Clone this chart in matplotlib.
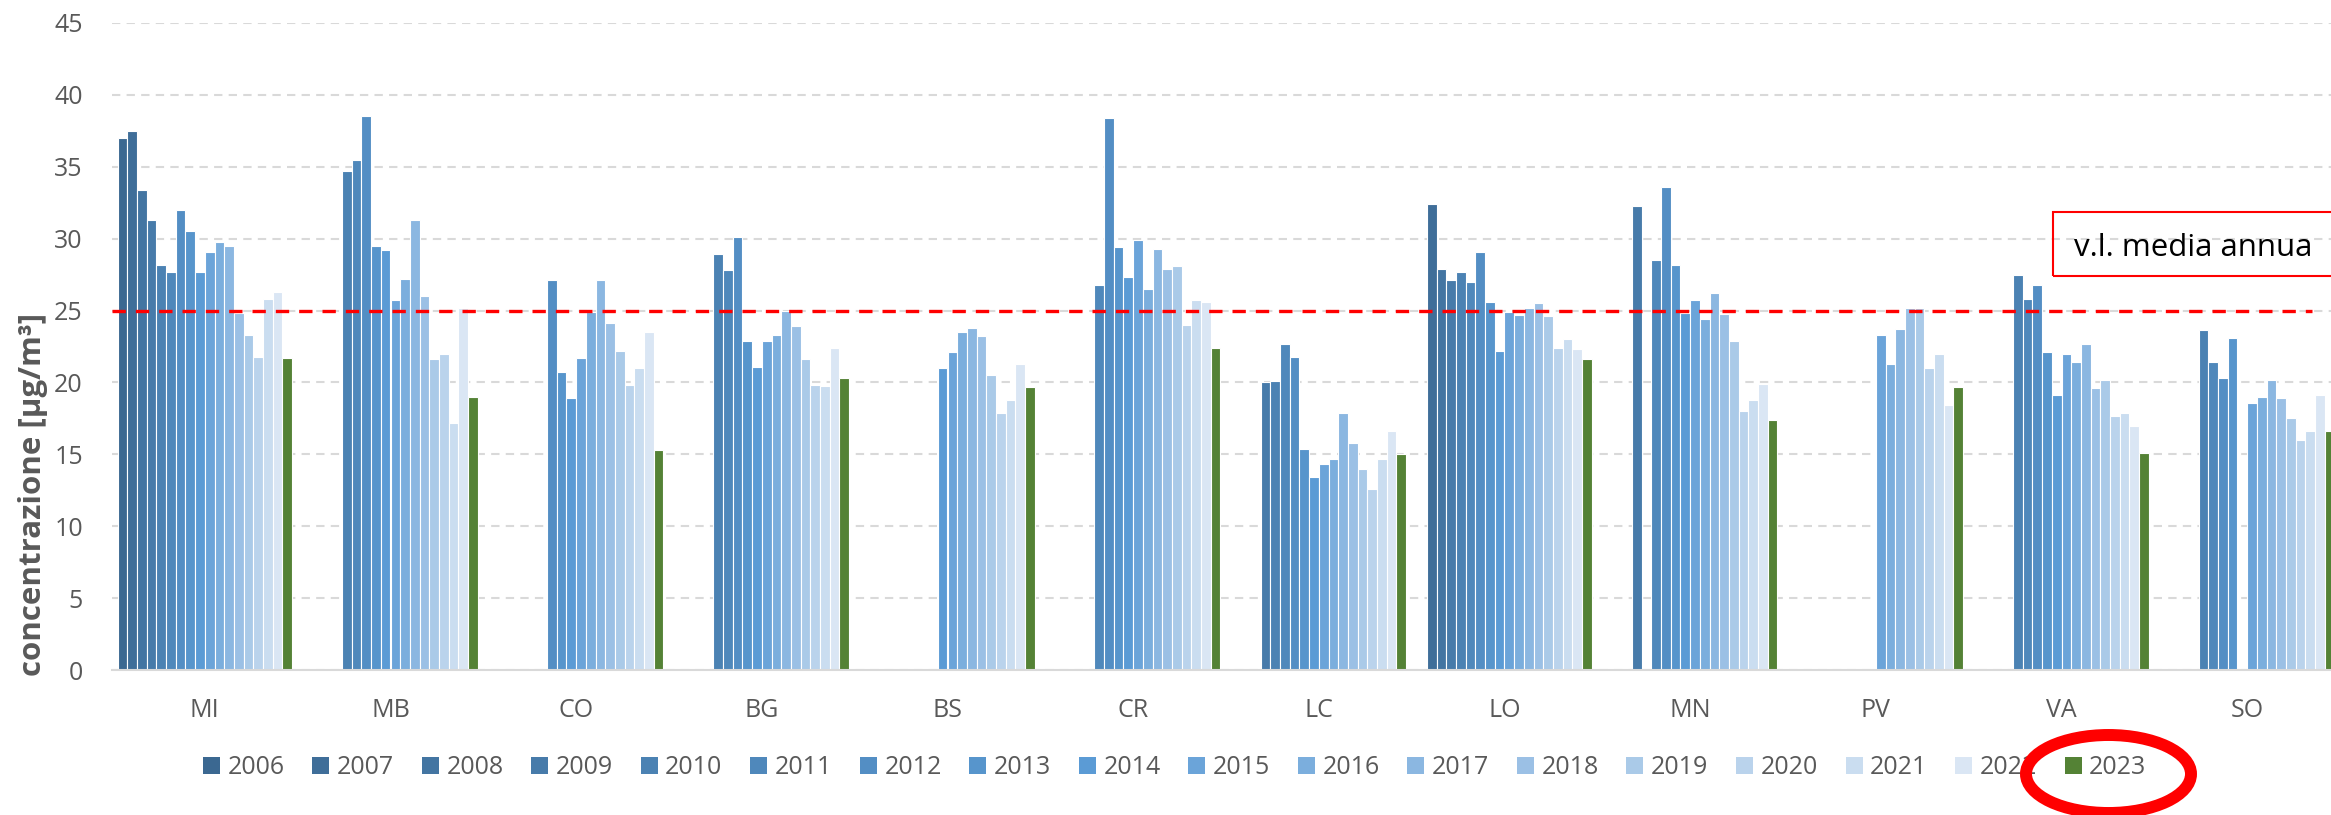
import matplotlib
matplotlib.use('Agg')
import matplotlib.pyplot as plt
from matplotlib.patches import Patch, Rectangle, Ellipse
import numpy as np

plt.rcParams['font.family'] = ['Open Sans', 'DejaVu Sans']

years = [str(y) for y in range(2006, 2024)]
provinces = ['MI', 'MB', 'CO', 'BG', 'BS', 'CR', 'LC', 'LO', 'MN', 'PV', 'VA', 'SO']

# annual means per province, 2006..2023 (None = no data)
MI = [37.0, 37.5, 33.4, 31.3, 28.2, 27.7, 32.0, 30.5, 27.7, 29.1, 29.8, 29.5, 24.8, 23.3, 21.8, 25.8, 26.3, 21.7]
MB = [None, None, None, None, 34.7, 35.5, 38.5, 29.5, 29.2, 25.7, 27.2, 31.3, 26.0, 21.6, 22.0, 17.2, 25.2, 19.0]
CO = [None, None, None, None, None, None, 27.1, 20.7, 18.9, 21.7, 24.9, 27.1, 24.1, 22.2, 19.8, 21.0, 23.5, 15.3]
BG = [None, None, None, None, 28.9, 27.8, 30.1, 22.9, 21.1, 22.9, 23.3, 25.0, 23.9, 21.6, 19.8, 19.75, 22.4, 20.3]
BS = [None, None, None, None, None, None, None, None, 21.0, 22.1, 23.5, 23.8, 23.2, 20.5, 17.9, 18.8, 21.3, 19.7]
CR = [None, None, None, None, None, 26.8, 38.4, 29.4, 27.3, 29.9, 26.5, 29.3, 27.9, 28.1, 24.0, 25.7, 25.6, 22.4]
LC = [None, None, None, 20.0, 20.1, 22.7, 21.8, 15.4, 13.4, 14.3, 14.7, 17.9, 15.8, 14.0, 12.6, 14.7, 16.6, 15.0]
LO = [None, 32.4, 27.9, 27.1, 27.7, 27.0, 29.1, 25.6, 22.2, 24.9, 24.7, 25.2, 25.5, 24.6, 22.4, 23.0, 22.3, 21.6]
MN = [None, None, None, 32.3, None, 28.5, 33.6, 28.2, 24.8, 25.7, 24.4, 26.2, 24.75, 22.9, 18.0, 18.8, 19.9, 17.4]
PV = [None, None, None, None, None, None, None, None, None, 23.3, 21.3, 23.7, 25.2, 25.2, 21.0, 22.0, 18.4, 19.7]
VA = [None, None, None, None, 27.5, 25.8, 26.8, 22.1, 19.1, 22.0, 21.4, 22.7, 19.6, 20.2, 17.7, 17.85, 17.0, 15.1]
SO = [None, None, None, None, 23.65, 21.4, 20.3, 23.1, None, 18.6, 19.0, 20.2, 18.9, 17.5, 16.0, 16.6, 19.1, 16.6]
values = [MI, MB, CO, BG, BS, CR, LC, LO, MN, PV, VA, SO]

LIMIT = 25  # v.l. media annua

colors = ['#3b6891', '#3f6e99', '#4375a2', '#477baa', '#4b82b3', '#4f88bb', '#538ec4', '#5795cc', '#5b9bd5',
          '#6ba4d9', '#7baedd', '#8bb7e1', '#9bc0e5', '#aacae8', '#bad3ec', '#caddf0', '#dae6f4', '#548235']

W, H = 2331, 815
fig = plt.figure(figsize=(W / 100, H / 100), dpi=100)
ax = fig.add_axes([112 / W, 145 / H, (2340 - 112) / W, (670 - 23) / H])

x = np.arange(len(provinces))
w = 1 / 19.2
for k, yr in enumerate(years):
    for i, vals in enumerate(values):
        v = vals[k]
        if v is None:
            continue
        ax.bar(x[i] + (k - 8.5) * w, v, width=w, color=colors[k], edgecolor='white', linewidth=0.8, zorder=2)

ax.set_xlim(-0.5, len(provinces) - 0.5)
ax.set_ylim(0, 45)
ax.set_yticks(np.arange(0, 46, 5))
ax.set_xticks(x)
ax.set_xticklabels(provinces)
ax.tick_params(axis='both', length=0, labelsize=18, labelcolor='#595959')
ax.tick_params(axis='x', pad=20)
ax.tick_params(axis='y', pad=21)
ax.yaxis.grid(True, color='#d9d9d9', linewidth=1.5, linestyle=(0, (4, 3)), zorder=0)
ax.set_axisbelow(True)
for s in ['top', 'right', 'left']:
    ax.spines[s].set_visible(False)
ax.spines['bottom'].set_color('#d9d9d9')
ax.spines['bottom'].set_linewidth(1.5)

# limit value line
ax.axhline(LIMIT, xmin=0, xmax=(2312 - 112) / 2228, color='red', linewidth=2.4,
           linestyle=(0, (4, 3)), zorder=3)

fig.text(33 / W, (H - 494) / H, 'concentrazione [µg/m³]', rotation=90, ha='center', va='center',
         fontsize=22.5, fontweight='bold', color='#595959')

# label box
fig.add_artist(Rectangle((2053 / W, (H - 276) / H), 300 / W, 64 / H, transform=fig.transFigure,
                         fill=False, edgecolor='red', linewidth=1.5))
fig.text(2074 / W, (H - 256) / H, 'v.l. media annua', ha='left', va='baseline', fontsize=22.5, color='black')

handles = [Patch(facecolor=c, edgecolor='none') for c in colors]
fig.legend(handles, years, loc='center left', bbox_to_anchor=(203 / W, (H - 768) / H), ncol=18,
           frameon=False, fontsize=18, labelcolor='#595959', borderpad=0, borderaxespad=0,
           handlelength=0.68, handleheight=0.64, handletextpad=0.3, columnspacing=1.11)

# highlight 2023
fig.add_artist(Ellipse((2108.5 / W, (H - 774) / H), 165 / W, 78 / H, transform=fig.transFigure,
                       fill=False, edgecolor='red', linewidth=8.6, zorder=10))

fig.savefig('out.png', dpi=100)
